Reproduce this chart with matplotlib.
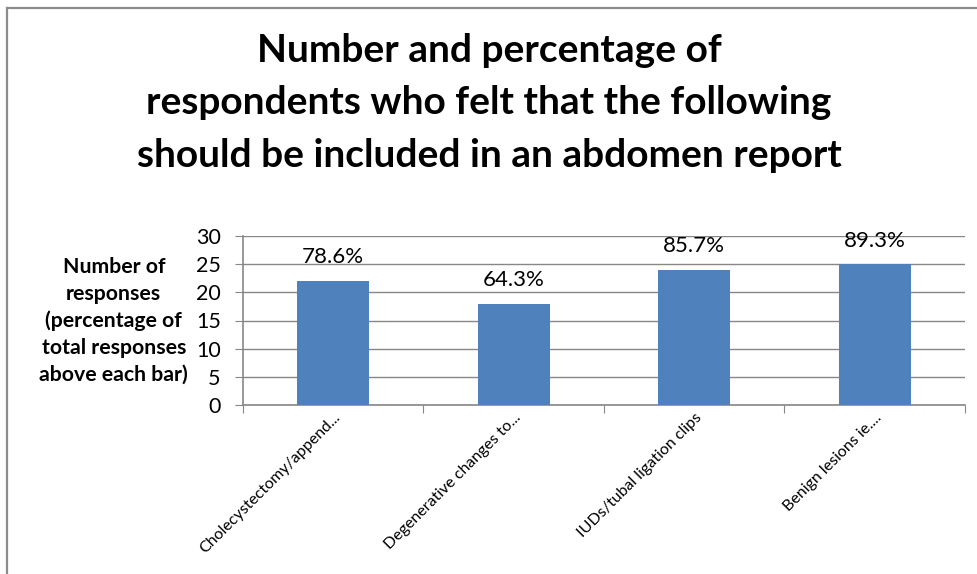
import matplotlib
matplotlib.use("Agg")
import matplotlib.pyplot as plt
from matplotlib.lines import Line2D

categories = ["Cholecystectomy/append...", "Degenerative changes to...",
              "IUDs/tubal ligation clips", "Benign lesions ie...."]
counts = [22, 18, 24, 25]
pct_labels = ["78.6%", "64.3%", "85.7%", "89.3%"]
yticks = [0, 5, 10, 15, 20, 25, 30]

plt.rcParams['font.family'] = ['Lato', 'DejaVu Sans']

W, H = 978, 574
fig = plt.figure(figsize=(W/100, H/100), dpi=100)
ax = fig.add_axes([243/W, 1-405/H, (965-243)/W, (405-236)/H])

x = list(range(len(categories)))
ax.bar(x, counts, width=0.4, color="#4f81bd", zorder=3)
for xi, c, lab in zip(x, counts, pct_labels):
    ax.annotate(lab, (xi, c), xytext=(0, 17), textcoords="offset points",
                ha="center", va="center", fontsize=16, color="black")

ax.set_xlim(-0.5, len(categories)-0.5)
ax.set_ylim(0, 30)
ax.set_yticks(yticks)
ax.set_yticklabels([str(t) for t in yticks], fontsize=15.5)
ax.yaxis.grid(True, color="#878787", linewidth=1, zorder=0)
ax.set_xticks([i - 0.5 for i in range(len(categories)+1)], minor=False)
ax.set_xticklabels([])
ax.set_xticks(x, minor=True)
ax.set_xticklabels(categories, minor=True, rotation=45, ha="right",
                   rotation_mode="anchor", fontsize=11.5)
ax.tick_params(axis="x", which="minor", length=0, pad=4)
ax.tick_params(axis="x", which="major", length=6, color="#878787", direction="out")
ax.tick_params(axis="y", length=6, color="#878787", direction="out", pad=10)
for s in ["top", "right"]:
    ax.spines[s].set_visible(False)
for s in ["left", "bottom"]:
    ax.spines[s].set_color("#878787")
    ax.spines[s].set_linewidth(1.2)

ax.set_ylabel("Number of\nresponses\n(percentage of\ntotal responses\nabove each bar)",
              rotation=0, fontsize=15.3, fontweight="bold", ha="center", va="center",
              linespacing=1.41)
ax.yaxis.set_label_coords(-0.179, 0.497)

fig.text(0.5, 1-103/H, "Number and percentage of\nrespondents who felt that the following\nshould be included in an abdomen report",
         ha="center", va="center", fontsize=28, fontweight="bold", linespacing=1.6)

fig.add_artist(Line2D([7.5/W, 1.0], [1-8/H, 1-8/H], color="#8c8c8c", linewidth=1.6, transform=fig.transFigure))
fig.add_artist(Line2D([7.5/W, 7.5/W], [0, 1-8/H], color="#8c8c8c", linewidth=1.6, transform=fig.transFigure))

fig.savefig("out.png", dpi=100)
